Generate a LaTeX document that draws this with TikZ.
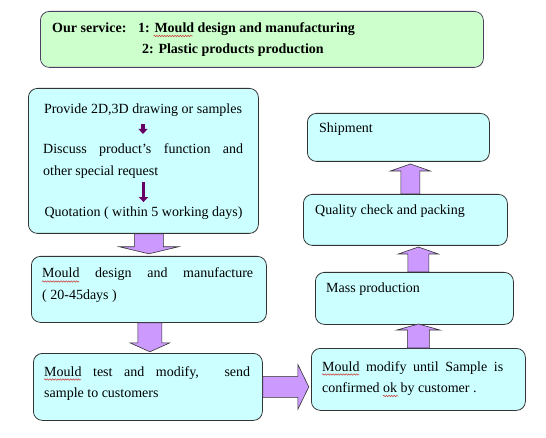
\documentclass[tikz,border=0pt]{standalone}
\usepackage{fontspec}
\setmainfont{Liberation Serif}
\usetikzlibrary{arrows.meta,decorations.pathmorphing}

\definecolor{servicefill}{HTML}{CCFFCC}
\definecolor{servicedraw}{HTML}{4D4060}
\definecolor{stepfill}{HTML}{CCFFFF}
\definecolor{edgegray}{HTML}{333333}
\definecolor{arrowfill}{HTML}{CC99FF}
\definecolor{smallarrow}{HTML}{660066}
\definecolor{spellred}{HTML}{CC3333}

\tikzset{
  stepbox/.style={draw=edgegray, fill=stepfill, line width=0.8pt, rounded corners=9pt,
    anchor=north west, inner sep=0},
  servicebox/.style={stepbox, draw=servicedraw, fill=servicefill},
  txt/.style={anchor=base west, inner sep=0, font=\fontsize{14}{17}\selectfont},
  fatarrow/.style={draw=edgegray, fill=arrowfill, line width=0.6pt, line join=miter},
  thinarrow/.style={draw=smallarrow, line width=3.5pt, -{Triangle[width=9pt,length=5pt]}},
  spellmark/.style={draw=spellred, line width=0.5pt, decorate,
    decoration={snake, amplitude=0.7pt, segment length=2.6pt}},
  % shaft half width, head half width, head base, tip
  pics/blockdown/.style n args={4}{code={
    \draw[fatarrow] (-#1,0) -- (#1,0) -- (#1,#3) -- (#2,#3) -- (0,#4) -- (-#2,#3) -- (-#1,#3) -- cycle;}},
  pics/blockright/.style n args={4}{code={
    \draw[fatarrow] (0,-#1) -- (0,#1) -- (#3,#1) -- (#3,#2) -- (#4,0) -- (#3,-#2) -- (#3,-#1) -- cycle;}}
}

\begin{document}
\begin{tikzpicture}[x=1pt, y=-1pt]
  \useasboundingbox[fill=white] (0,0) rectangle (546,438);

  % header
  \node[servicebox, minimum width=443, minimum height=56] (service) at (40,11) {};
  \node[txt, font=\fontsize{14}{17}\selectfont\bfseries] (servicename) at (52,33) {Our service:};
  \node[txt, font=\fontsize{14}{17}\selectfont\bfseries] (serviceone) at (138,33) {1: Mould design and manufacturing};
  \node[txt, font=\fontsize{14}{17}\selectfont\bfseries] (servicetwo) at (142,54) {2: Plastic products production};
  \draw[spellmark] (153.5,36) -- ++(39,0);

  % left column
  \node[stepbox, minimum width=230, minimum height=145] (A) at (28,88) {};
  \node[stepbox, minimum width=235, minimum height=66] (B) at (31,256) {};
  \node[stepbox, minimum width=229, minimum height=67] (C) at (33,353) {};

  \node[txt, anchor=base] (provide) at (143,114) {Provide 2D,3D drawing or samples};
  \node[txt] (discuss) at (43,154) {\makebox[200pt][s]{Discuss product's function and}};
  \node[txt] (request) at (43,176) {other special request};
  \node[txt, anchor=base] (quote) at (143.5,217) {Quotation ( within 5 working days)};
  \draw[thinarrow, shorten <=7pt, shorten >=10pt] (provide.south) -- (provide.south |- discuss.north);
  \draw[thinarrow, shorten <=3pt, shorten >=5pt] (request.south -| quote.north) -- (quote.north);

  \node[txt] (designtxt) at (42,278) {\makebox[211pt][s]{Mould design and manufacture}};
  \node[txt] (daystxt) at (42,299) {( 20-45days )};
  \draw[spellmark] ([yshift=-3.5pt]designtxt.base west) -- ++(37,0);

  \node[txt] (testtxt) at (44,376) {\makebox[206pt][s]{Mould test and modify,\quad\ send}};
  \node[txt] (sampletxt) at (44,397) {sample to customers};
  \draw[spellmark] ([yshift=-3.5pt]testtxt.base west) -- ++(37,0);

  % right column
  \node[stepbox, minimum width=214, minimum height=62] (D) at (311,348) {};
  \node[stepbox, minimum width=198, minimum height=52] (E) at (315,272) {};
  \node[stepbox, minimum width=204, minimum height=51] (F) at (303,194) {};
  \node[stepbox, minimum width=182, minimum height=48] (G) at (307,113) {};

  \node[txt] (modifytxt) at (322,371) {\makebox[181pt][s]{Mould modify until\ Sample is}};
  \node[txt] (confirmtxt) at (322,392) {confirmed ok by customer .};
  \draw[spellmark] ([yshift=-3.5pt]modifytxt.base west) -- ++(37,0);
  \draw[spellmark] (383,396) -- ++(15,0);
  \node[txt] (masstxt) at (326,293) {Mass production};
  \node[txt] (qualitytxt) at (315,215) {Quality check and packing};
  \node[txt] (shiptxt) at (319,133) {Shipment};

  % block arrows
  \pic (ab) at (A.south -| B.north) {blockdown={14.5}{29.5}{13}{20}};
  \pic (bc) at ([xshift=2pt]B.south -| C.north) {blockdown={12}{20}{20}{29}};
  \pic (cd) at (C.east) {blockright={10.5}{22.5}{35}{46}};
  \pic (de) at (D.north) {blockdown={11}{21.5}{-18}{-24}};
  \pic (ef) at (E.north -| D.north) {blockdown={10.5}{20}{-18}{-25}};
  \pic (fg) at ([xshift=5pt]F.north) {blockdown={9.5}{20}{-23}{-30}};
\end{tikzpicture}
\end{document}
